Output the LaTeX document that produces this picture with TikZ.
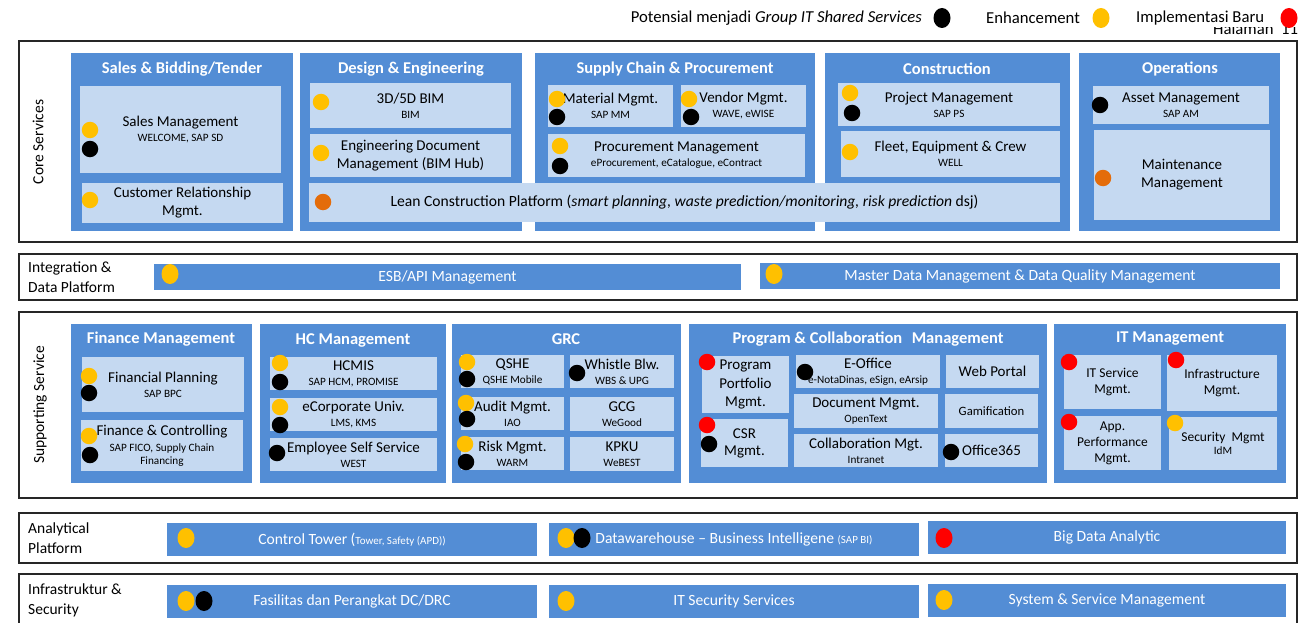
\documentclass[tikz,border=0pt]{standalone}
\usepackage{fontspec}
\setmainfont{Carlito}
\usetikzlibrary{shapes.geometric}
\definecolor{grpblue}{RGB}{83,141,213}
\definecolor{itmblue}{RGB}{197,217,241}
\definecolor{dyel}{RGB}{255,192,0}
\definecolor{dora}{RGB}{228,108,10}
\definecolor{dred}{RGB}{255,0,0}
\newcommand\bx[7]{\pgfmathsetmacro\bxw{#5-#3}\pgfmathsetmacro\bxh{#6-#4}%
  \node[#1, minimum width=\bxw pt, minimum height=\bxh pt, anchor=north west] (#2) at (#3,#4) {#7};}
\newcommand\sm[1]{{\fontsize{11.2}{13}\selectfont #1}}
\newcommand\dt[4]{\node[dotc, fill=#2] (#1) at (#3,#4) {};}
\newcommand\de[4]{\node[dote, fill=#2] (#1) at (#3,#4) {};}
\begin{document}
\begin{tikzpicture}[x=1pt,y=-1pt,
  layer/.style={draw=black!85, line width=1.3pt, fill=white, inner sep=0pt, outer sep=0pt},
  grp/.style={fill=grpblue, inner sep=0pt, outer sep=0pt},
  itm/.style={fill=itmblue, inner sep=0pt, outer sep=0pt, align=center, text=black, font=\fontsize{15}{18}\selectfont},
  itms/.style={itm, font=\fontsize{13.5}{16.5}\selectfont},
  bar/.style={fill=grpblue, inner sep=0pt, outer sep=0pt, text=white, font=\fontsize{15.6}{18}\selectfont},
  hdr/.style={text=white, inner sep=0pt, font=\bfseries\fontsize{16.5}{19}\selectfont},
  lbl/.style={anchor=west, align=left, inner sep=0pt, font=\fontsize{15.5}{20}\selectfont},
  rot/.style={rotate=90, inner sep=0pt, font=\fontsize{15.5}{19}\selectfont},
  leg/.style={inner sep=0pt, font=\fontsize{16.7}{19}\selectfont},
  dotc/.style={circle, inner sep=0pt, minimum size=16.5pt, draw=none},
  dote/.style={ellipse, inner sep=0pt, minimum width=17pt, minimum height=20pt, draw=none}]
\useasboundingbox (0,0) rectangle (1300,623);
\fill[white] (0,0) rectangle (1300,623);

% legend
\node[leg, anchor=east] (L1) at (922,18) {Potensial menjadi \textit{Group IT Shared Services}};
\de{L1d}{black}{942}{18}
\node[leg, anchor=west] (L2) at (986,18) {Enhancement};
\de{L2d}{dyel}{1101}{18}
\node[leg, anchor=west] (L3) at (1136,18) {Implementasi Baru};
\de{L3d}{dred}{1289}{18}
\begin{scope}
\clip (1200,28) rectangle (1300,40);
\node[leg, anchor=base west] (hal) at (1213,35) {Halaman\ \ 11};
\end{scope}

% ================= Core Services
\bx{layer}{Lcore}{19}{41}{1297}{242}{}
\node[rot] (Lcoret) at (38,142) {Core Services};

\bx{grp}{G1}{71}{53}{293}{231}{}
\node[hdr] (G1h) at (182,69) {Sales \& Bidding/Tender};
\bx{itm}{I11}{80}{86}{281}{173}{Sales Management\\[-3pt]\sm{WELCOME, SAP SD}}
\path (I11.north west) ++(0,-2) coordinate (I11c);
\bx{itm}{I12}{82}{183}{283}{223}{Customer Relationship\\Mgmt.}

\bx{grp}{G2}{300}{53}{522}{231}{}
\node[hdr] (G2h) at (411,69) {Design \& Engineering};
\bx{itm}{I21}{310}{83}{511}{128}{3D/5D BIM\\[-3pt]\sm{BIM}}
\bx{itm}{I22}{310}{134}{511}{177}{Engineering Document\\Management (BIM Hub)}

\bx{grp}{G3}{535}{53}{815}{231}{}
\node[hdr] (G3h) at (675,69) {Supply Chain \& Procurement};
\bx{itm}{I31}{548}{85}{673}{127}{Material Mgmt.\\[-3pt]\sm{SAP MM}}
\bx{itm}{I32}{681}{85}{806}{127}{Vendor Mgmt.\\[-3pt]\sm{WAVE, eWISE}}
\bx{itm}{I33}{548}{134}{805}{177}{Procurement Management\\[-3pt]\sm{eProcurement, eCatalogue, eContract}}

\bx{grp}{G4}{825}{53}{1070}{231}{}
\node[hdr] (G4h) at (947,69) {Construction};
\bx{itm}{I41}{838}{83}{1060}{126}{Project Management\\[-3pt]\sm{SAP PS}}
\bx{itm}{I42}{841}{131}{1060}{177}{Fleet, Equipment \& Crew\\[-3pt]\sm{WELL}}

\bx{grp}{G5}{1079}{53}{1280}{231}{}
\node[hdr] (G5h) at (1180,69) {Operations};
\bx{itm}{I51}{1093}{86}{1269}{124}{Asset\ Management\\[-3pt]\sm{SAP AM}}
\bx{itm}{I52}{1094}{130}{1270}{220}{Maintenance\\Management}

\bx{itm}{I23}{309}{183}{1060}{222}{{\fontsize{15.6}{18}\selectfont Lean Construction Platform (\textit{smart planning, waste prediction/monitoring, risk prediction} dsj)}}

\dt{D111}{dyel}{90}{130}
\dt{D112}{black}{90}{149}
\dt{D121}{dyel}{90}{200}
\dt{D211}{dyel}{321}{102}
\dt{D221}{dyel}{321}{153}
\dt{D231}{dora}{323}{202}
\dt{D311}{dyel}{557}{99}
\dt{D312}{black}{557}{117}
\dt{D321}{dyel}{689}{99}
\dt{D322}{black}{691}{117}
\dt{D331}{dyel}{560}{146}
\dt{D332}{black}{560}{166}
\dt{D411}{dyel}{850}{93}
\dt{D412}{black}{852}{113}
\dt{D421}{dyel}{850}{152}
\dt{D511}{black}{1100}{105}
\dt{D521}{dora}{1103}{178}

% ================= Integration
\bx{layer}{Lint}{19}{254}{1297}{300}{}
\node[lbl] (Lintt) at (28,277) {Integration \&\\Data Platform};
\bx{bar}{B1}{154}{264}{741}{290}{ESB/API Management}
\bx{bar}{B2}{760}{263}{1280}{289}{Master Data Management \& Data Quality Management}
\de{DB1}{dyel}{170}{274}
\de{DB2}{dyel}{774}{274}

% ================= Supporting
\bx{layer}{Lsup}{19}{312}{1297}{498}{}
\node[rot] (Lsupt) at (40,405) {Supporting Service};

\bx{grp}{G6}{71}{324}{252}{483}{}
\node[hdr] (G6h) at (161,339) {Finance Management};
\bx{itm}{I61}{82}{357}{244}{412}{Financial Planning\\[-3pt]\sm{SAP BPC}}
\bx{itm}{I62}{81}{420}{243}{471}{Finance \& Controlling\\[-2pt]\sm{SAP FICO, Supply Chain}\\[-5pt]\sm{Financing}}

\bx{grp}{G7}{260}{324}{446}{483}{}
\node[hdr] (G7h) at (353,340) {HC Management};
\bx{itm}{I71}{270}{357}{437}{390}{HCMIS\\[-3pt]\sm{SAP HCM, PROMISE}}
\bx{itm}{I72}{270}{398}{437}{431}{eCorporate Univ.\\[-3pt]\sm{LMS, KMS}}
\bx{itm}{I73}{270}{438}{437}{471}{Employee Self Service\\[-3pt]\sm{WEST}}

\bx{grp}{G8}{452}{324}{681}{483}{}
\node[hdr] (G8h) at (566,339) {GRC};
\bx{itm}{I81}{461}{355}{564}{388}{QSHE\\[-3pt]\sm{QSHE Mobile}}
\bx{itm}{I82}{570}{355}{674}{388}{Whistle Blw.\\[-3pt]\sm{WBS \& UPG}}
\bx{itm}{I83}{461}{397}{564}{430}{Audit Mgmt.\\[-3pt]\sm{IAO}}
\bx{itm}{I84}{570}{397}{674}{431}{GCG\\[-3pt]\sm{WeGood}}
\bx{itm}{I85}{461}{437}{564}{470}{Risk Mgmt.\\[-3pt]\sm{WARM}}
\bx{itm}{I86}{570}{437}{674}{471}{KPKU\\[-3pt]\sm{WeBEST}}

\bx{grp}{G9}{689}{324}{1047}{483}{}
\node[hdr] (G9h) at (868,339) {Program \& Collaboration\hspace{0.35em} Management};
\bx{itm}{I91}{702}{356}{789}{413}{Program\\[0.5pt]Portfolio\\[0.5pt]Mgmt.}
\bx{itm}{I92}{701}{419}{788}{467}{CSR\\[-1pt]Mgmt.}
\bx{itm}{I93}{796}{355}{940}{388}{E-Office\\[-3pt]\sm{e-NotaDinas, eSign, eArsip}}
\bx{itm}{I94}{794}{394}{938}{428}{Document Mgmt.\\[-3pt]\sm{OpenText}}
\bx{itm}{I95}{794}{434}{938}{467}{Collaboration Mgt.\\[-3pt]\sm{Intranet}}
\bx{itm}{I96}{946}{355}{1039}{388}{Web Portal}
\bx{itm}{I97}{945}{394}{1038}{428}{{\fontsize{12.7}{15}\selectfont Gamification}}
\bx{itm}{I98}{945}{434}{1038}{467}{Office365}

\bx{grp}{G10}{1054}{324}{1286}{483}{}
\node[hdr] (G10h) at (1170,339) {IT Management};
\bx{itms}{I101}{1064}{355}{1161}{409}{IT Service\\Mgmt.}
\bx{itms}{I102}{1167}{355}{1277}{411}{Infrastructure\\Mgmt.}
\bx{itms}{I103}{1064}{416}{1161}{470}{App.\\[-0.5pt]Performance\\[-0.5pt]Mgmt.}
\bx{itms}{I104}{1169}{417}{1277}{470}{Security\ \ Mgmt\\[-3pt]\sm{IdM}}

\dt{D611}{dyel}{89}{376}
\dt{D612}{black}{89}{393}
\dt{D621}{dyel}{89}{436}
\dt{D622}{black}{90}{455}
\dt{D711}{dyel}{280}{363}
\dt{D712}{black}{280}{382}
\dt{D721}{dyel}{280}{407}
\dt{D722}{black}{280}{425}
\dt{D731}{black}{277}{453}
\dt{D811}{dyel}{467}{362}
\dt{D812}{black}{467}{379}
\dt{D821}{black}{577}{373}
\dt{D831}{dyel}{466}{403}
\dt{D832}{black}{467}{419}
\dt{D851}{dyel}{465}{444}
\dt{D852}{black}{466}{462}
\dt{D911}{dred}{707}{362}
\dt{D921}{dred}{707}{425}
\dt{D922}{black}{709}{444}
\dt{D931}{black}{805}{372}
\dt{D981}{black}{951}{452}
\dt{D1011}{dred}{1069}{362}
\dt{D1021}{dred}{1176}{360}
\dt{D1031}{dred}{1069}{422}
\dt{D1041}{dyel}{1175}{423}

% ================= Analytical
\bx{layer}{Lana}{19}{513}{1297}{563}{}
\node[lbl] (Lanat) at (28,538) {Analytical\\Platform};
\bx{bar}{B3}{167}{523}{537}{556}{Control Tower ({\fontsize{11}{13}\selectfont Tower, Safety (APD))}}
\bx{bar}{B4}{549}{523}{919}{556}{Datawarehouse – Business Intelligene {\fontsize{11}{13}\selectfont (SAP BI)}}
\bx{bar}{B5}{928}{521}{1286}{554}{Big Data Analytic}
\de{DB31}{dyel}{186}{538}
\de{DB41}{dyel}{566}{538}
\de{DB42}{black}{582}{538}
\de{DB51}{dred}{944}{538}

% ================= Infrastruktur
\bx{layer}{Linf}{19}{574}{1297}{640}{}
\node[lbl] (Linft) at (28,600) {Infrastruktur \&\\Security};
\bx{bar}{B6}{167}{585}{537}{618}{Fasilitas dan Perangkat DC/DRC}
\bx{bar}{B7}{549}{585}{919}{618}{IT Security Services}
\bx{bar}{B8}{928}{584}{1286}{617}{System \& Service Management}
\de{DB61}{dyel}{186}{601}
\de{DB62}{black}{204}{601}
\de{DB71}{dyel}{566}{601}
\de{DB81}{dyel}{944}{600}
\end{tikzpicture}
\end{document}
